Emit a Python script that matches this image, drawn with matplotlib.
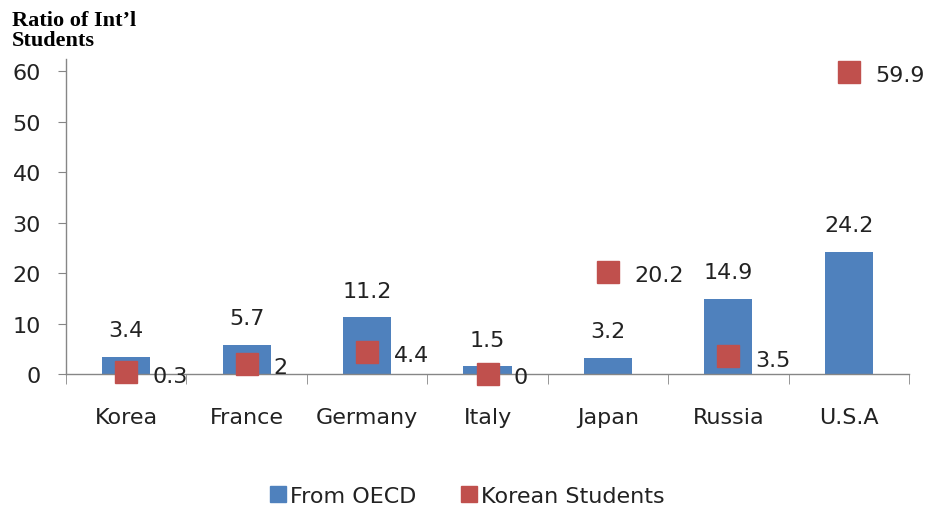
import numpy as np
import matplotlib
matplotlib.use("Agg")
import matplotlib.pyplot as plt
from matplotlib.lines import Line2D

countries = ["Korea", "France", "Germany", "Italy", "Japan", "Russia", "U.S.A"]
oecd = [3.4, 5.7, 11.2, 1.5, 3.2, 14.9, 24.2]
korean = [0.3, 2, 4.4, 0, 20.2, 3.5, 59.9]
oecd_labels = ["3.4", "5.7", "11.2", "1.5", "3.2", "14.9", "24.2"]
korean_labels = ["0.3", "2", "4.4", "0", "20.2", "3.5", "59.9"]
yticks = [0, 10, 20, 30, 40, 50, 60]

BLUE = "#4F81BD"
RED = "#C0504D"
GREY = "#868686"
TXT = "#222222"

plt.rcParams["font.family"] = ["DejaVu Sans"]

fig = plt.figure(figsize=(9.25, 5.1), dpi=100)
ax = fig.add_axes([0.0714, 0.2647, 0.9113, 0.6173])

x = np.arange(len(countries))
ax.bar(x, oecd, width=0.4, color=BLUE, zorder=2)
ax.plot(x, korean, ls="none", marker="s", ms=16, color=RED,
        markeredgecolor=RED, zorder=3, clip_on=False)

for xi, v, lab in zip(x, oecd, oecd_labels):
    ax.annotate(lab, (xi, v), xytext=(0, 15), textcoords="offset points",
                ha="center", va="baseline", fontsize=16, color=TXT)
for xi, v, lab in zip(x, korean, korean_labels):
    ax.annotate(lab, (xi, v), xytext=(19, -1), textcoords="offset points",
                ha="left", va="center_baseline", fontsize=16, color=TXT, zorder=4)

ax.set_xlim(-0.5, len(countries) - 0.5)
ax.set_ylim(0, 62.4)
ax.set_yticks(yticks)
ax.set_xticks(x)
ax.set_xticklabels(countries)
ax.set_xticks(np.arange(len(countries) + 1) - 0.5, minor=True)

ax.tick_params(axis="x", which="major", length=0, pad=24, labelsize=16, labelcolor=TXT)
ax.tick_params(axis="x", which="minor", length=7, direction="out", color=GREY)
ax.tick_params(axis="y", length=6, direction="out", color=GREY, pad=12,
               labelsize=16, labelcolor=TXT)

for s in ["top", "right"]:
    ax.spines[s].set_visible(False)
for s in ["left", "bottom"]:
    ax.spines[s].set_color(GREY)
    ax.spines[s].set_linewidth(1.0)
ax.spines["bottom"].set_zorder(2.5)

# two-line axis title, top-left
fig.text(0.013, 0.978, "Ratio of Int\u2019l\nStudents", family="Liberation Serif",
         fontweight="bold", fontsize=16, ha="left", va="top",
         linespacing=1.0, color="black")

handles = [
    Line2D([], [], ls="none", marker="s", ms=12, color=BLUE, label="From OECD"),
    Line2D([], [], ls="none", marker="s", ms=12, color=RED, label="Korean Students"),
]
fig.legend(handles=handles, loc="center", bbox_to_anchor=(0.505, 0.025), ncol=2,
           frameon=False, fontsize=16, handlelength=0.7, handletextpad=0.2,
           columnspacing=2.0, labelcolor=TXT)

fig.savefig("out.png", dpi=100)
